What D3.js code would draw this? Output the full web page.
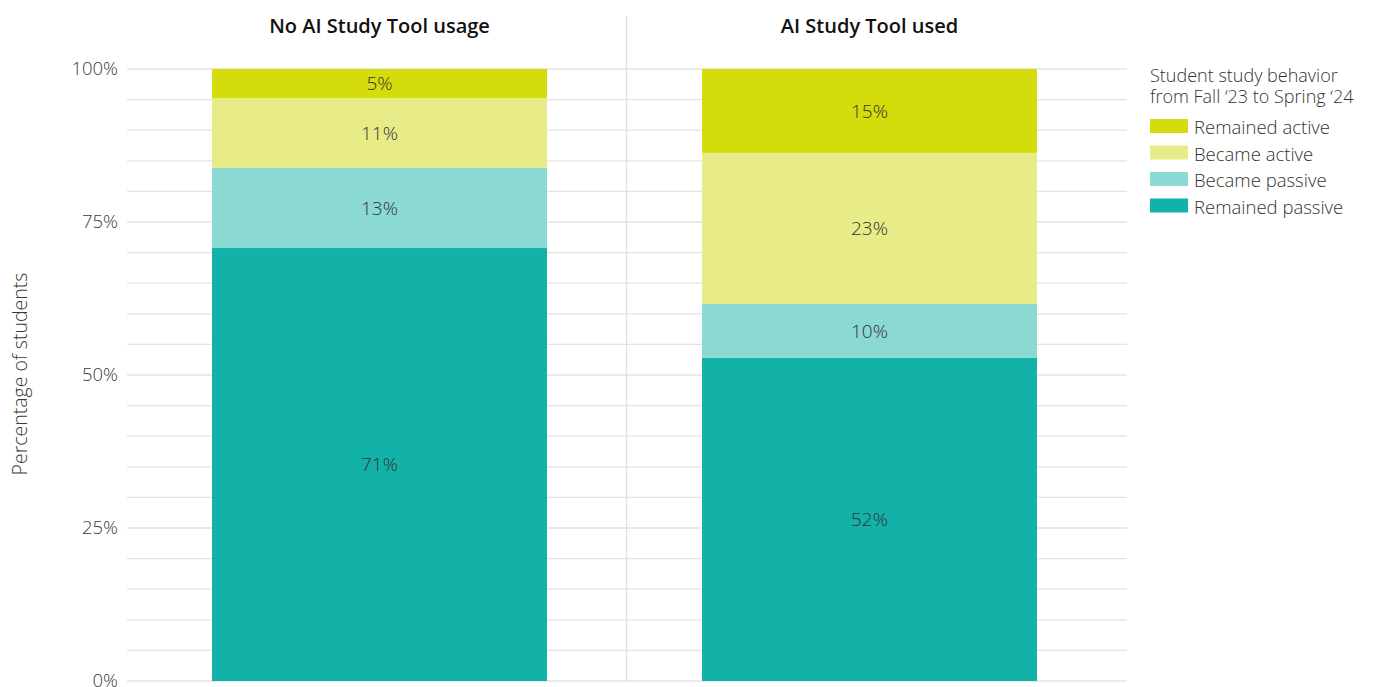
<!DOCTYPE html>
<html><head><meta charset="utf-8">
<script src="https://cdn.jsdelivr.net/npm/d3@7"></script>
<style>
body{margin:0;background:#fff;}
text{font-family:"Open Sans",sans-serif;}
</style></head>
<body>
<svg id="chart" width="1378" height="687"></svg>
<script>
const panels = ["No AI Study Tool usage", "AI Study Tool used"];
const series = ["Remained passive", "Became passive", "Became active", "Remained active"];
const legendOrder = ["Remained active", "Became active", "Became passive", "Remained passive"];
const colors = ["#13b2a8", "#8ad9d2", "#e8ec88", "#d4dc0b"];
// bar heights (percent) per panel, in series order
const noToolValues = [70.75, 13.07, 11.44, 4.74];
const toolValues = [52.8, 8.8, 24.7, 13.7];
// printed labels
const noToolLabels = ["71%", "13%", "11%", "5%"];
const toolLabels = ["52%", "10%", "23%", "15%"];
const yTicks = [0, 25, 50, 75, 100];
const yTickLabels = ["0%", "25%", "50%", "75%", "100%"];
const gridValues = d3.range(0, 101, 5);
const legendTitle = ["Student study behavior", "from Fall \u201823 to Spring \u201824"];
const yTitle = "Percentage of students";

const svg = d3.select("#chart");
const mTop = 69, mBottom = 681, mLeft = 127, mRight = 1127, divX = 626.5;
const y = d3.scaleLinear().domain([0, 100]).range([mBottom, mTop]);
const x = d3.scaleBand().domain(panels).range([134.5, 1114.5])
  .paddingInner(155 / 490).paddingOuter(77.5 / 490);
const color = d3.scaleOrdinal().domain(series).range(colors);

// gridlines
svg.append("g").selectAll("line").data(gridValues).join("line")
  .attr("x1", mLeft).attr("x2", mRight)
  .attr("y1", d => y(d)).attr("y2", d => y(d))
  .attr("stroke", "#e3e3e3").attr("stroke-width", 1.3);

// divider
svg.append("line").attr("x1", divX).attr("x2", divX)
  .attr("y1", 16).attr("y2", mBottom).attr("stroke", "#e0e0e0").attr("stroke-width", 1.3);

// y axis
const yAxis = d3.axisLeft(y).tickValues(yTicks).tickFormat((d, i) => yTickLabels[i]).tickSize(0).tickPadding(9);
const ga = svg.append("g").attr("transform", `translate(${mLeft},0)`).call(yAxis);
ga.select(".domain").remove();
ga.selectAll("text").attr("font-size", 18.5).attr("fill", "#3a3a3a").attr("font-family", "Open Sans").attr("font-weight", 300);

svg.append("text").attr("transform", `translate(27,${(mTop + mBottom) / 2 - 1}) rotate(-90)`)
  .attr("text-anchor", "middle").attr("font-size", 19.5).attr("font-weight", 300).attr("fill", "#3a3a3a").text(yTitle);

const panelData = [
  {name: panels[0], values: noToolValues, labels: noToolLabels},
  {name: panels[1], values: toolValues, labels: toolLabels}
];

panelData.forEach(p => {
  const g = svg.append("g");
  const cx = x(p.name) + x.bandwidth() / 2;
  g.append("text").attr("x", cx).attr("y", 33).attr("text-anchor", "middle")
    .attr("font-size", 20).attr("font-weight", 600).attr("fill", "#111").text(p.name);
  let cum = 0;
  const segs = p.values.map((v, i) => { const s = {key: series[i], y0: cum, y1: cum + v, label: p.labels[i]}; cum += v; return s; });
  g.selectAll("rect").data(segs).join("rect")
    .attr("x", x(p.name)).attr("width", x.bandwidth())
    .attr("y", d => y(d.y1)).attr("height", d => y(d.y0) - y(d.y1))
    .attr("fill", d => color(d.key));
  g.selectAll("text.lbl").data(segs).join("text").attr("class", "lbl")
    .attr("x", cx).attr("y", d => y((d.y0 + d.y1) / 2))
    .attr("dy", "0.35em").attr("text-anchor", "middle").attr("font-size", 19).attr("font-weight", 300)
    .attr("fill", "#333").text(d => d.label);
});

// legend
const lg = svg.append("g").attr("transform", "translate(1150,0)");
lg.selectAll("text.t").data(legendTitle).join("text").attr("class", "t")
  .attr("x", 0).attr("y", (d, i) => 81.5 + i * 21.5).attr("font-size", 18).attr("font-weight", 300).attr("fill", "#333").text(d => d);
const items = lg.selectAll("g.item").data(legendOrder).join("g").attr("class", "item")
  .attr("transform", (d, i) => `translate(0,${119 + i * 26.5})`);
items.append("rect").attr("width", 38).attr("height", 14).attr("fill", d => color(d));
items.append("text").attr("x", 44).attr("y", 9).attr("dy", "0.35em").attr("font-size", 18.5).attr("font-weight", 300).attr("fill", "#333").text(d => d);
</script>
</body></html>
